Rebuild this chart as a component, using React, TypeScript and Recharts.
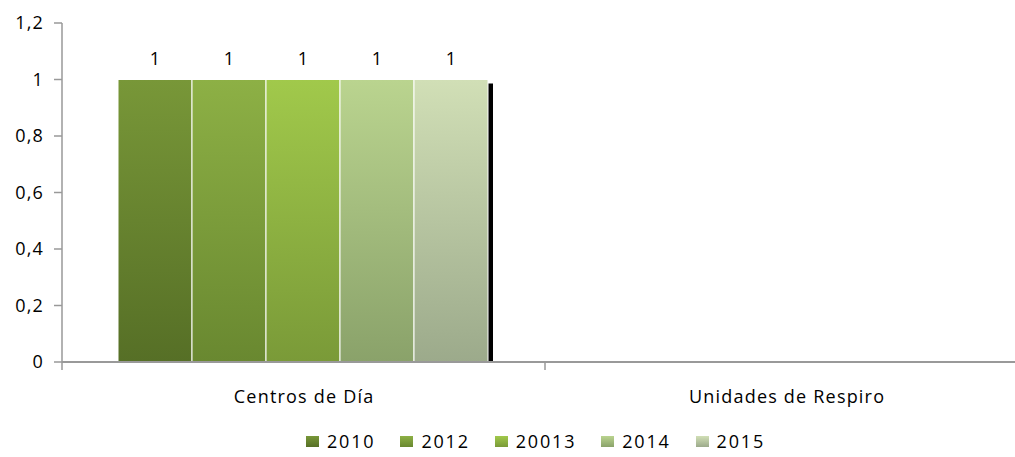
import { BarChart, Bar, XAxis, YAxis, LabelList } from "recharts";

const categories = ["Centros de Día", "Unidades de Respiro"];
const seriesNames = ["2010", "2012", "20013", "2014", "2015"];
const values2010 = [1, null];
const values2012 = [1, null];
const values20013 = [1, null];
const values2014 = [1, null];
const values2015 = [1, null];
const yTicks = [0, 0.2, 0.4, 0.6, 0.8, 1, 1.2];

const seriesValues = [values2010, values2012, values20013, values2014, values2015];

// top / bottom colours of each bar gradient
const GRADS = [
  ["#789738", "#566f26"],
  ["#8db045", "#698830"],
  ["#a1c94b", "#7a9a38"],
  ["#bad48f", "#8aa26a"],
  ["#d1dfb6", "#9caa8b"],
];

const data = categories.map((name, i) => {
  const row: Record<string, string | number | null> = { name };
  seriesNames.forEach((s, j) => {
    row[s] = seriesValues[j][i];
  });
  return row;
});

const FONT = "'Open Sans', sans-serif";
const FS = 18;
const SPACING = 1.2;
const CHART_W = 1040;
const PLOT_LEFT = 62;
const PLOT_RIGHT = 12;
const BAND = (CHART_W - PLOT_LEFT - PLOT_RIGHT) / categories.length;

const fmt = (v: number) => String(Math.round(v * 10) / 10).replace(".", ",");

function CategoryTick(props: any) {
  const { x, y, payload } = props;
  const left = x - BAND / 2;
  return (
    <g>
      <line x1={left} y1={y - 8} x2={left} y2={y} stroke="#999" strokeWidth={1.5} />
      <text
        x={x + SPACING / 2}
        y={y + 33}
        textAnchor="middle"
        fontFamily={FONT}
        fontSize={FS}
        letterSpacing={SPACING}
        fill="#000"
      >
        {payload.value}
      </text>
    </g>
  );
}

function ShadowBar(props: any) {
  const { x, y, width, height, fill } = props;
  if (!height) return <g />;
  return (
    <g>
      <rect x={x + width} y={y + 4} width={5} height={height - 4} fill="#000" />
      <rect x={x} y={y} width={width} height={height} fill={fill} stroke="#fff" strokeWidth={1} />
    </g>
  );
}

export default function App() {
  return (
    <div
      style={{
        position: "fixed",
        left: 0,
        top: 0,
        width: 1015,
        height: 457,
        overflow: "hidden",
        background: "#fff",
      }}
    >
      <BarChart
        width={CHART_W}
        height={457}
        data={data}
        margin={{ top: 23, right: PLOT_RIGHT, left: 0, bottom: 50 }}
        barCategoryGap={56}
        barGap={0}
      >
        <defs>
          {GRADS.map((g, i) => (
            <linearGradient key={i} id={`grad${i}`} x1="0" y1="0" x2="0" y2="1">
              <stop offset="0%" stopColor={g[0]} />
              <stop offset="100%" stopColor={g[1]} />
            </linearGradient>
          ))}
        </defs>
        <YAxis
          width={PLOT_LEFT}
          domain={[0, 1.2]}
          ticks={yTicks}
          tickFormatter={fmt}
          axisLine={{ stroke: "#999", strokeWidth: 1.5 }}
          tickLine={{ stroke: "#999", strokeWidth: 1.5 }}
          tickSize={8}
          tickMargin={10}
          tick={{ fontFamily: FONT, fontSize: FS, fill: "#000", letterSpacing: SPACING }}
        />
        <XAxis
          dataKey="name"
          height={45}
          axisLine={{ stroke: "#999", strokeWidth: 2 }}
          tickLine={false}
          tick={<CategoryTick />}
          interval={0}
        />
        {seriesNames.map((s, i) => (
          <Bar
            key={s}
            dataKey={s}
            fill={`url(#grad${i})`}
            stroke="#fff"
            strokeWidth={1}
            isAnimationActive={false}
            shape={i === seriesNames.length - 1 ? <ShadowBar /> : undefined}
          >
            <LabelList
              dataKey={s}
              position="top"
              offset={15}
              style={{ fontFamily: FONT, fontSize: FS, fill: "#000" }}
            />
          </Bar>
        ))}
      </BarChart>
      <div
        style={{
          position: "absolute",
          top: 429,
          left: 0,
          width: 1015,
          display: "flex",
          justifyContent: "center",
          fontFamily: FONT,
          fontSize: FS,
          letterSpacing: 1.8,
          color: "#000",
          paddingLeft: 28,
        }}
      >
        {seriesNames.map((s, i) => (
          <div key={s} style={{ display: "flex", alignItems: "center", marginRight: i < seriesNames.length - 1 ? 25 : 0 }}>
            <span
              style={{
                display: "inline-block",
                width: 13,
                height: 11,
                marginRight: 8,
                background: `linear-gradient(${GRADS[i][0]}, ${GRADS[i][1]})`,
              }}
            />
            <span>{s}</span>
          </div>
        ))}
      </div>
    </div>
  );
}
